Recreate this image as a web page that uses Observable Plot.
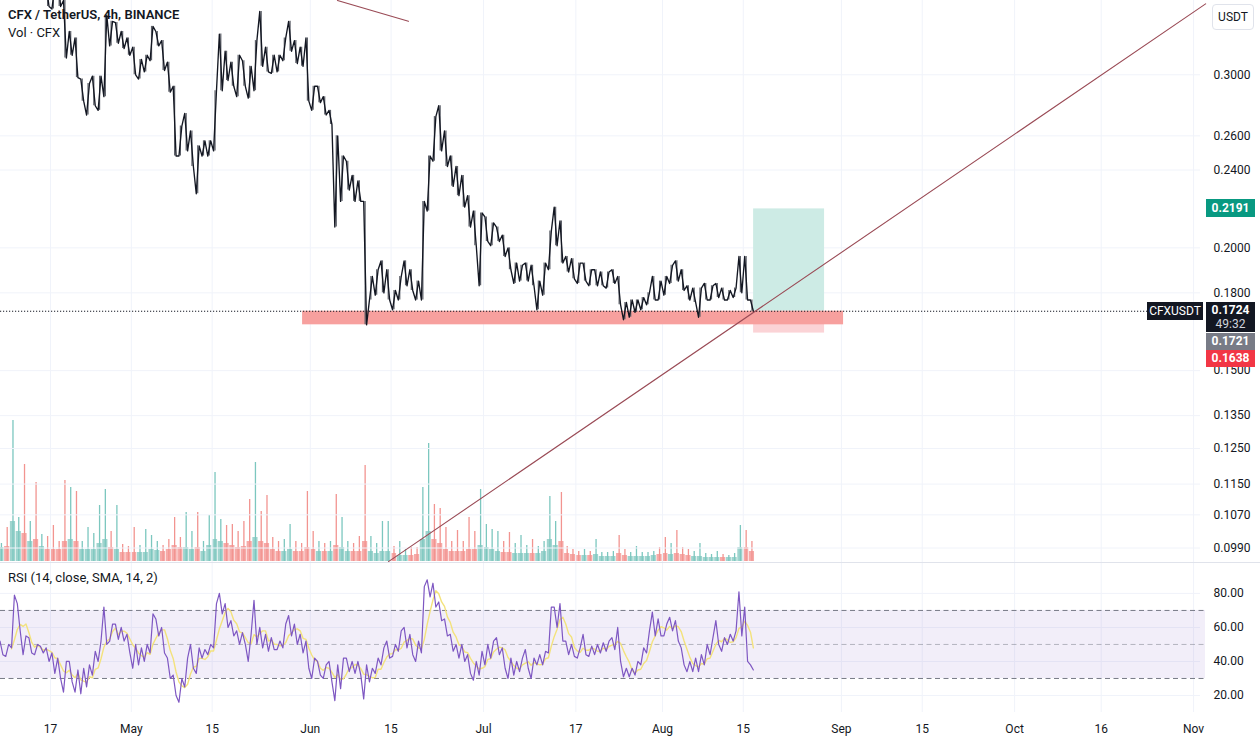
<!DOCTYPE html>
<html><head><meta charset="utf-8">
<script src="https://cdn.jsdelivr.net/npm/d3@7"></script>
<script src="https://cdn.jsdelivr.net/npm/@observablehq/plot@0.6"></script>
<style>
body{margin:0;background:#fff;font-family:Roboto,"Noto Sans",sans-serif;color:#131722;}
#chart{position:relative;width:1260px;height:744px;overflow:hidden;background:#fff;}
#chart svg{position:absolute;left:0;}
.lbl{position:absolute;font-size:12px;line-height:18px;text-align:center;white-space:nowrap;}
.txt{position:absolute;font-size:13px;white-space:nowrap;color:#131722;}
</style></head><body><div id="chart"></div>
<script>
// ---------- DATA ----------
const startDay = "2023-04-08";            // day index 0
const priceStartDay = 8;                  // price arrays start 2023-04-16
const priceHigh = [0.37,0.37,0.38,0.357,0.332,0.327,0.297,0.294,0.299,0.299,
  0.345,0.340,0.339,0.332,0.327,0.320,0.311,0.314,0.336,0.332,
  0.325,0.309,0.292,0.266,0.274,0.263,0.254,0.257,0.257,0.289,
  0.330,0.317,0.309,0.314,0.310,0.306,0.325,0.348,0.320,0.314,
  0.314,0.327,0.340,0.325,0.320,0.327,0.292,0.292,0.285,0.276,
  0.260,0.248,0.245,0.237,0.234,0.223,0.187,0.190,0.194,0.190,
  0.181,0.187,0.194,0.190,0.185,0.223,0.248,0.272,0.279,0.263,
  0.248,0.242,0.237,0.226,0.218,0.217,0.215,0.212,0.210,0.206,
  0.200,0.193,0.192,0.193,0.192,0.185,0.193,0.208,0.220,0.213,
  0.196,0.195,0.193,0.193,0.190,0.190,0.189,0.189,0.190,0.187,
  0.176,0.177,0.177,0.178,0.180,0.187,0.185,0.187,0.192,0.194,
  0.190,0.183,0.182,0.182,0.184,0.183,0.184,0.182,0.181,0.182,
  0.196,0.196,0.177];
const priceLow = [0.352,0.35,0.352,0.312,0.314,0.298,0.282,0.273,0.279,0.276,
  0.285,0.321,0.323,0.319,0.314,0.300,0.297,0.302,0.310,0.321,
  0.303,0.288,0.248,0.248,0.251,0.242,0.227,0.248,0.248,0.251,
  0.289,0.296,0.292,0.285,0.292,0.284,0.289,0.306,0.302,0.301,
  0.302,0.310,0.317,0.308,0.306,0.282,0.276,0.281,0.273,0.267,
  0.210,0.223,0.229,0.223,0.223,0.167,0.177,0.179,0.180,0.177,
  0.173,0.177,0.183,0.181,0.177,0.177,0.218,0.245,0.251,0.242,
  0.231,0.226,0.220,0.210,0.201,0.183,0.203,0.201,0.203,0.196,
  0.190,0.184,0.185,0.185,0.183,0.173,0.179,0.190,0.201,0.193,
  0.189,0.186,0.184,0.185,0.183,0.183,0.183,0.182,0.184,0.175,
  0.169,0.170,0.172,0.173,0.175,0.177,0.177,0.179,0.184,0.185,
  0.181,0.177,0.176,0.170,0.177,0.177,0.178,0.177,0.177,0.178,
  0.180,0.177,0.1724];
const rsiHigh = [52,50,79,74,55,54,50,49,48,45, 42,40,40,35,36,38,46,52,72,62,
  62,60,56,50,48,50,68,65,60,42, 32,30,42,50,48,47,50,74,80,74,
  64,58,57,56,76,60,56,54,52,62, 67,62,56,52,42,40,38,40,38,42,
  42,40,40,38,36,42,48,52,50,58, 60,56,52,84,88,86,75,65,56,50,
  50,44,40,46,50,52,54,48,42,40, 42,47,42,44,46,72,72,74,52,50,
  48,56,49,50,51,52,54,60,36,36, 40,48,58,69,65,62,66,64,48,40,
  42,44,50,54,64,54,56,58,81,72, 38];
const rsiLow = [44,43,48,58,44,45,44,45,40,33, 30,22,28,22,21,25,32,40,50,52,
  53,52,45,36,38,40,45,55,45,30, 20,16,25,36,33,42,44,48,68,60,
  55,50,50,40,50,48,46,47,47,48, 55,50,45,36,30,32,30,28,17,24,
  34,33,32,18,28,33,38,42,43,46, 48,44,40,45,78,72,64,55,46,42,
  40,33,29,32,38,42,44,36,30,32, 34,36,30,38,38,45,60,52,44,43,
  42,44,43,44,45,46,47,40,31,31, 32,38,45,55,55,55,58,52,38,34,
  34,34,38,44,50,46,50,52,55,40, 35];
const volTypical = [1.4,1.5,4.0,3.0,2.8,2.0,2.2,1.5,1.2,1.2, 1.2,2.0,2.2,2.0,1.2,1.2,1.2,1.8,2.2,1.4,
  1.2,0.9,0.9,0.9,0.9,0.9,1.2,1.1,1.0,1.2, 1.6,1.4,1.4,1.2,1.4,1.0,1.6,2.2,2.0,1.8,
  1.6,1.4,1.5,2.0,2.4,2.0,1.8,1.2,1.0,1.0, 1.2,1.0,1.0,1.4,1.2,1.0,1.0,1.0,1.6,1.4,
  1.0,1.0,1.0,2.0,1.0,0.8,1.0,1.0,0.8,0.6, 0.6,0.6,0.7,2.2,3.0,2.2,1.8,1.2,1.0,1.0,
  1.0,1.2,1.2,1.6,1.4,1.2,1.0,0.9,0.9,0.8, 0.8,0.8,0.8,0.8,1.0,2.2,1.6,2.0,0.8,0.7,
  0.6,0.6,0.6,0.7,0.5,0.5,0.5,0.8,0.6,0.5, 0.5,0.5,0.5,0.6,0.7,0.8,0.7,0.8,0.7,0.6,
  0.5,0.5,0.4,0.4,0.4,0.4,0.4,0.4,1.4,1.4, 1.0];
const volPeak = [1.8,3.4,14.1,4.4,9.7,4.0,7.9,2.7,2.5,3.6, 2.0,8.1,7.4,7.0,2.0,3.4,2.8,5.6,7.2,3.0,
  5.6,1.7,1.5,3.4,1.6,3.2,2.6,2.0,1.6,2.2, 4.4,2.4,4.9,3.0,4.9,2.0,4.6,8.9,4.2,3.6,
  3.7,3.0,4.0,6.2,9.9,5.0,6.6,2.4,2.0,2.2, 3.7,2.0,1.8,7.0,3.0,2.0,1.8,2.0,6.7,4.4,
  2.0,1.8,2.5,9.6,2.5,1.8,4.0,4.0,1.5,2.0, 1.2,1.4,1.4,7.4,11.8,5.7,5.3,3.4,2.0,3.1,
  2.0,4.4,3.0,7.2,3.7,3.2,3.0,2.0,2.9,1.8, 2.6,1.6,2.2,1.5,2.0,6.5,4.0,6.9,1.5,1.2,
  1.0,1.2,1.0,2.2,0.9,0.9,1.0,2.6,1.2,0.9, 1.5,0.9,0.9,1.0,1.4,2.4,1.8,3.1,1.4,1.2,
  1.0,1.8,0.8,0.7,1.0,0.7,0.6,0.8,3.6,3.1, 2.0];
const xTicks = ["2023-04-17","2023-05-01","2023-05-15","2023-06-01","2023-06-15","2023-07-01","2023-07-17",
  "2023-08-01","2023-08-15","2023-09-01","2023-09-15","2023-10-01","2023-10-16","2023-11-01"];
const priceTicks = [0.099,0.107,0.115,0.125,0.135,0.15,0.18,0.2,0.24,0.26,0.3];
const rsiTicks = [20,40,60,80];
const rsiLevels = [30,70];
const rsiMid = [50];
const supportZone = [{start:"2023-05-30T16:00Z", end:"2023-09-01T09:00Z", top:0.1724, bottom:0.1670}];
const longPosition = [{start:"2023-08-16T19:00Z", end:"2023-08-29T02:00Z", entry:0.1724, target:0.2191, stop:0.1638}];
const trendUp = [{t:"2023-06-14T13:00Z", p:0.0959},{t:"2023-11-03T02:00Z", p:0.3542}];
const trendDown = [{t:"2023-06-05T17:00Z", p:0.357},{t:"2023-06-18T00:00Z", p:0.340}];
const lastPrice = 0.1724, prevPrice = 0.1721, countdown = "49:32";

// ---------- HELPERS ----------
const DAY = 864e5;
const t0 = new Date(startDay + "T00:00Z").getTime();
const at = d => new Date(t0 + d*DAY);
const xDomain = [at(0.339), at(208.2)];
const bandEnd = at(209.07);
const ticks = xTicks.map(s => new Date(s + "T00:00Z"));
const tickFmt = d => d.getUTCDate() === 1 ? d3.utcFormat("%b")(d) : String(d.getUTCDate());
const FONT = "Roboto, 'Noto Sans', sans-serif";
const INK = "#131722", GRID = "#f0f3fa";
const W = 1260;

function zigzag(his, los, offset) {
  const pts = [];
  his.forEach((hi, k) => {
    const lo = los[k], mid = (hi+lo)/2;
    const next = k+1 < his.length ? (his[k+1]+los[k+1])/2 : -Infinity;
    const seq = next < mid ? [hi, lo] : [lo, hi];
    pts.push({t: at(offset+k+0.25), v: seq[0]}, {t: at(offset+k+0.75), v: seq[1]});
  });
  return pts;
}
const pricePts = zigzag(priceHigh, priceLow, priceStartDay);
const priceDays = priceHigh.map((hi, k) => ({t: at(priceStartDay+k+0.5), hi, lo: priceLow[k]}));
const rsiPts = zigzag(rsiHigh, rsiLow, 0);
const rsiSma = rsiPts.map((p,i) => i < 4 ? null : {t:p.t, v:d3.mean(rsiPts.slice(i-4,i+1), q=>q.v)}).filter(Boolean);
const volDays = volTypical.map((v,d) => ({
  d, typ: v, peak: volPeak[d],
  up: d === 0 ? true : (rsiHigh[d]+rsiLow[d]) >= (rsiHigh[d-1]+rsiLow[d-1])
}));
const toD = s => new Date(s);
const zone = supportZone.map(z => ({...z, start:toD(z.start), end:toD(z.end)}));
const pos = longPosition.map(z => ({...z, start:toD(z.start), end:toD(z.end)}));
const tUp = trendUp.map(o => ({t:toD(o.t), p:o.p}));
const tDown = trendDown.map(o => ({t:toD(o.t), p:o.p}));

const chart = document.getElementById("chart");
const baseStyle = {fontFamily: FONT, fontSize: "12px", color: INK, background: "transparent", overflow: "visible"};

// ---------- VOLUME (overlay) ----------
const volPlot = Plot.plot({
  width: W, height: 562, marginLeft: 0, marginRight: 60, marginTop: 420, marginBottom: 1,
  style: baseStyle,
  x: {type: "utc", domain: xDomain, axis: null},
  y: {domain: [0, 14.1], axis: null},
  marks: [
    Plot.rectY(volDays, {x1: d => at(d.d), x2: d => at(d.d+1), y: "typ",
      fill: d => d.up ? "#9fd4ce" : "#f6aaa8", insetLeft: 0.3, insetRight: 0.3}),
    Plot.ruleX(volDays, {x: d => at(d.d+0.5), y1: 0, y2: "peak",
      stroke: d => d.up ? "#7cc7bf" : "#f29490", strokeWidth: 1.3})
  ]
});
volPlot.style.top = "0px";
chart.appendChild(volPlot);

// ---------- PRICE ----------
const pricePlot = Plot.plot({
  width: W, height: 562, marginLeft: 0, marginRight: 60, marginTop: 0, marginBottom: 0,
  style: baseStyle,
  x: {type: "utc", domain: xDomain, axis: null},
  y: {type: "log", domain: [0.0957, 0.357], axis: null},
  marks: [
    Plot.gridX(ticks, {stroke: GRID, strokeOpacity: 1}),
    Plot.gridY(priceTicks, {stroke: GRID, strokeOpacity: 1}),
    Plot.rect(pos, {x1: "start", x2: "end", y1: "entry", y2: "stop", fill: "#fbd3d6"}),
    Plot.rect(pos, {x1: "start", x2: "end", y1: "entry", y2: "target", fill: "#cdebe5"}),
    Plot.rect(zone, {x1: "start", x2: "end", y1: "bottom", y2: "top", fill: "#f7a09e"}),
    Plot.ruleY([lastPrice], {stroke: INK, strokeDasharray: "1.2,1.8", strokeWidth: 1}),
    Plot.ruleX(priceDays, {x: "t", y1: "lo", y2: "hi", stroke: "#5d6069", strokeWidth: 1.2, clip: true}),
    Plot.line(pricePts, {x: "t", y: "v", stroke: INK, strokeWidth: 1.35, clip: true}),
    Plot.line(tUp, {x: "t", y: "p", stroke: "#9a4b56", strokeWidth: 1.1}),
    Plot.line(tDown, {x: "t", y: "p", stroke: "#9a4b56", strokeWidth: 1.1}),
    Plot.axisY(priceTicks, {anchor: "right", tickSize: 0, tickPadding: 13, tickFormat: d3.format(".4f"), fill: INK})
  ]
});
pricePlot.style.top = "0px";
chart.appendChild(pricePlot);

// ---------- RSI ----------
const levelRows = rsiLevels.map(v => ({v, a: xDomain[0], b: bandEnd}));
const midRows = rsiMid.map(v => ({v, a: xDomain[0], b: bandEnd}));
const rsiPlot = Plot.plot({
  width: W, height: 182, marginLeft: 0, marginRight: 60, marginTop: 1, marginBottom: 32,
  style: baseStyle,
  x: {type: "utc", domain: xDomain, axis: null},
  y: {domain: [10, 97.6], axis: null},
  marks: [
    Plot.gridX(ticks, {stroke: GRID, strokeOpacity: 1}),
    Plot.gridY(rsiTicks, {stroke: GRID, strokeOpacity: 1}),
    Plot.rect([{a: xDomain[0], b: bandEnd, lo: rsiLevels[0], hi: rsiLevels[1]}],
      {x1: "a", x2: "b", y1: "lo", y2: "hi", fill: "#7e57c2", fillOpacity: 0.1}),
    Plot.ruleY(levelRows, {y: "v", x1: "a", x2: "b", stroke: "#787b86", strokeDasharray: "5,3.5"}),
    Plot.ruleY(midRows, {y: "v", x1: "a", x2: "b", stroke: "#787b86", strokeOpacity: 0.5, strokeDasharray: "5,3.5"}),
    Plot.line(rsiSma, {x: "t", y: "v", stroke: "#f3e27c", strokeWidth: 1.4}),
    Plot.line(rsiPts, {x: "t", y: "v", stroke: "#7e57c2", strokeWidth: 1.2}),
    Plot.axisY(rsiTicks, {anchor: "right", tickSize: 0, tickPadding: 13, tickFormat: d3.format(".2f"), fill: INK}),
    Plot.axisX(ticks, {anchor: "bottom", tickSize: 0, tickPadding: 12, tickFormat: tickFmt, fill: INK})
  ]
});
rsiPlot.style.top = "562px";
chart.appendChild(rsiPlot);

// ---------- separators, legends, price labels ----------
function div(cls, css, html) {
  const e = document.createElement("div");
  e.className = cls; Object.assign(e.style, css); e.innerHTML = html; chart.appendChild(e); return e;
}
div("", {position:"absolute", left:"0px", top:"562px", width:"1260px", height:"1px", background:"#e0e3eb"}, "");
div("txt", {left:"8px", top:"7px", fontWeight:"600"}, "CFX / TetherUS, 4h, BINANCE");
div("txt", {left:"8px", top:"25px"}, "Vol · CFX");
div("txt", {left:"8px", top:"570px"}, "RSI (14, close, SMA, 14, 2)");
div("lbl", {left:"1212px", top:"4px", width:"40px", height:"24px", lineHeight:"24px",
  border:"1px solid #e0e3eb", borderRadius:"4px", color:INK, background:"#fff"}, "USDT");

const ys = pricePlot.scale("y");
const yOf = v => ys.apply(v);
div("lbl", {left:"1206px", top:(yOf(longPosition[0].target)-9)+"px", width:"49px", height:"18px",
  background:"#089981", color:"#fff", fontWeight:"bold"}, d3.format(".4f")(longPosition[0].target));
const lpTop = yOf(lastPrice) - 9;
div("lbl", {left:"1147px", top:lpTop+"px", width:"56px", height:"18px", background:INK, color:"#fff"}, "CFXUSDT");
div("lbl", {left:"1206px", top:lpTop+"px", width:"49px", height:"30px", background:INK, color:"#fff", lineHeight:"14px", paddingTop:"1px", boxSizing:"border-box"},
  "<b>" + d3.format(".4f")(lastPrice) + "</b><br><span style='color:#d1d4dc'>" + countdown + "</span>");
div("lbl", {left:"1206px", top:(lpTop+31)+"px", width:"49px", height:"17px", lineHeight:"17px", background:"#787b86", color:"#fff", fontWeight:"bold"}, d3.format(".4f")(prevPrice));
div("lbl", {left:"1206px", top:(lpTop+48)+"px", width:"49px", height:"17px", lineHeight:"17px", background:"#f23645", color:"#fff", fontWeight:"bold"}, d3.format(".4f")(longPosition[0].stop));
</script></body></html>
